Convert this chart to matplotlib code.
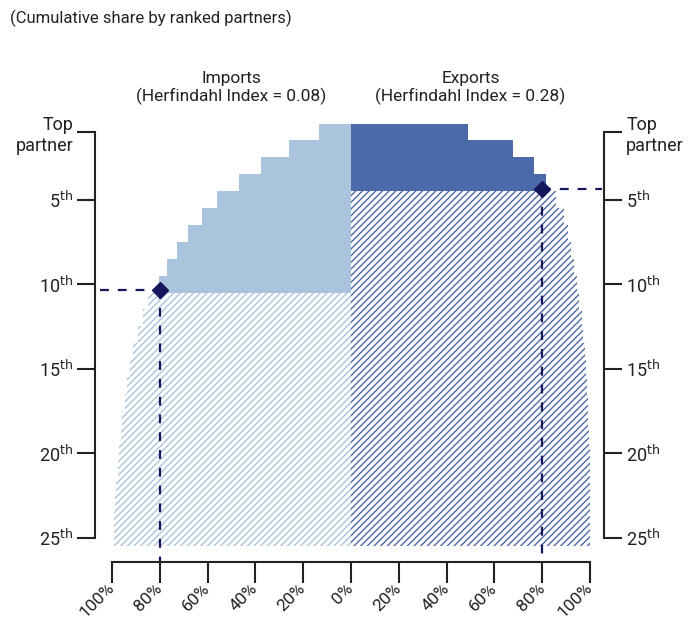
import numpy as np
import matplotlib.pyplot as plt

plt.rcParams['font.family'] = ['Roboto', 'DejaVu Sans']
plt.rcParams['hatch.linewidth'] = 1.0

# cumulative share (%) by partner rank
ranks = np.arange(1, 26)
imports_cum = [13.5, 26.1, 37.8, 46.7, 56.0, 62.4, 68.0, 73.0, 76.9, 80.5,
               84.8, 87.1, 89.2, 91.1, 92.5, 93.6, 94.7, 95.7, 96.4, 97.1,
               97.6, 98.2, 98.6, 99.0, 99.3]
exports_cum = [48.8, 67.7, 76.4, 81.6, 85.7, 89.0, 90.6, 92.0, 93.4, 94.5,
               95.5, 96.5, 97.2, 97.9, 98.3, 98.7, 99.0, 99.3, 99.6, 99.8,
               99.9, 100.0, 100.0, 100.0, 100.0]
imports_cut = 10   # rank at which 80% is reached
exports_cut = 4
imports_hhi = 0.08
exports_hhi = 0.28

light = '#a9c4dc'
dark = '#4b6aa9'
navy = '#16165c'
ink = '#222222'

fig = plt.figure(figsize=(6.92, 6.22), dpi=100)
ax = fig.add_axes([112 / 692, 1 - 562 / 622, 478 / 692, (562 - 123.6) / 622])

imp = np.array(imports_cum)
exp_ = np.array(exports_cum)
solid_i = ranks <= imports_cut
solid_e = ranks <= exports_cut

ax.barh(ranks[solid_i], -imp[solid_i], height=1, color=light, linewidth=0)
ax.barh(ranks[~solid_i], -imp[~solid_i], height=1, facecolor='white',
        edgecolor=light, hatch='/////', linewidth=0)
ax.barh(ranks[solid_e], exp_[solid_e], height=1, color=dark, linewidth=0)
ax.barh(ranks[~solid_e], exp_[~solid_e], height=1, facecolor='white',
        edgecolor=dark, hatch='/////', linewidth=0)

ylo = 26.45
mi_y = imports_cut + 0.35
me_y = exports_cut + 0.35
# reference lines to the 80% point
ax.plot([-105, -80], [mi_y, mi_y], ls=(0, (4, 4)), color=navy, lw=1.6, clip_on=False)
ax.plot([-80, -80], [mi_y, ylo], ls=(0, (4, 4)), color=navy, lw=1.6)
ax.plot([80, 105], [me_y, me_y], ls=(0, (4, 4)), color=navy, lw=1.6, clip_on=False)
ax.plot([80, 80], [me_y, ylo], ls=(0, (4, 4)), color=navy, lw=1.6)
ax.plot([-80, 80], [mi_y, me_y], ls='none', marker='D', ms=8.5, color=navy)

ax.set_xlim(-100, 100)
ax.set_ylim(ylo, 0.5)

xt = np.arange(-100, 101, 20)
ax.set_xticks(xt)
ax.set_xticklabels([f'{abs(v)}%' for v in xt], rotation=45, ha='right',
                   va='center', rotation_mode='anchor')
ax.tick_params(axis='x', length=15, width=1.5, pad=2, colors=ink, labelsize=12.5)

yt = [1, 5, 10, 15, 20, 25]
ylab = ['Top\npartner'] + [f'{v}$^{{\\mathrm{{th}}}}$' for v in yt[1:]]
ax.set_yticks(yt)
ax.set_yticklabels(ylab)
ax.tick_params(axis='y', length=13, width=1.5, pad=3, left=True, right=True,
               labelleft=True, labelright=True, colors=ink, labelsize=13)
for t in ax.yaxis.get_major_ticks():
    t.label1.set_multialignment('center')
    t.label2.set_multialignment('center')

for s in ['left', 'right', 'bottom']:
    ax.spines[s].set_linewidth(1.5)
    ax.spines[s].set_color(ink)
ax.spines['top'].set_visible(False)
ax.spines['left'].set_position(('outward', 12))
ax.spines['right'].set_position(('outward', 10))
ax.spines['left'].set_bounds(1, 25)
ax.spines['right'].set_bounds(1, 25)

ax.text(-50, -0.6, f'Imports\n(Herfindahl Index = {imports_hhi:.2f})',
        ha='center', va='bottom', fontsize=12.5, color=ink, linespacing=1.1)
ax.text(50, -0.6, f'Exports\n(Herfindahl Index = {exports_hhi:.2f})',
        ha='center', va='bottom', fontsize=12.5, color=ink, linespacing=1.1)
fig.text(10 / 692, 1 - 18 / 622, '(Cumulative share by ranked partners)',
         ha='left', va='center', fontsize=12, color=ink)

fig.savefig('out.png', dpi=100)
